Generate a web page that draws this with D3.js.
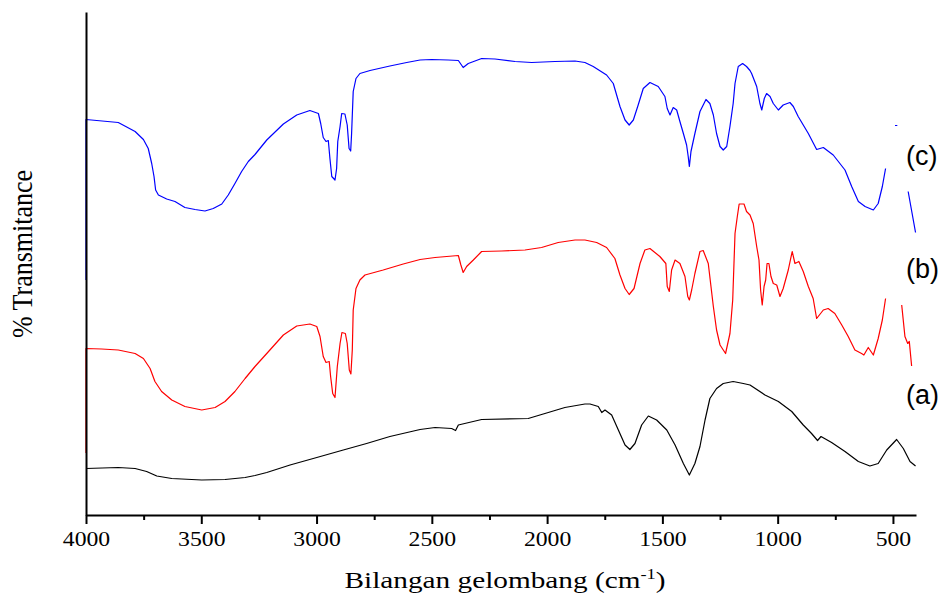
<!DOCTYPE html>
<html>
<head>
<meta charset="utf-8">
<script src="https://cdn.jsdelivr.net/npm/d3@7"></script>
<style>
  body { margin: 0; background: #fff; }
</style>
</head>
<body>
<svg id="chart" width="944" height="595"></svg>
<script>
// wavenumber tick labels
const majorTicks = [4000, 3500, 3000, 2500, 2000, 1500, 1000, 500];
const minorTicks = [3750, 3250, 2750, 2250, 1750, 1250, 750];

// curve labels
const curveLabels = ['(a)', '(b)', '(c)'];
const labelLevels = [22.2, 47.4, 70.0];

// [wavenumber, transmittance (arbitrary, stacked)] ; null = gap in the trace
const spectrumA = [
  [4000, 9.3], [3860, 9.5], [3787, 9.3], [3737, 8.7], [3693, 7.8], [3628, 7.3],
  [3498, 7.0], [3397, 7.1], [3310, 7.5], [3267, 7.9], [3216, 8.5], [3115, 10.0],
  [2999, 11.5], [2884, 13.0], [2783, 14.3], [2682, 15.7], [2551, 17.1], [2486, 17.5],
  [2414, 17.3], [2397, 16.9], [2385, 18.0], [2284, 19.1], [2082, 19.3], [1995, 20.5],
  [1923, 21.5], [1836, 22.2], [1814, 22.2], [1778, 21.7], [1763, 20.5], [1749, 21.0],
  [1720, 20.0], [1691, 17.0], [1662, 14.0], [1641, 13.1], [1619, 14.3], [1590, 18.0],
  [1561, 19.8], [1525, 19.0], [1481, 17.0], [1445, 14.0], [1409, 10.3], [1383, 8.0],
  [1359, 10.3], [1337, 13.7], [1315, 19.0], [1294, 23.3], [1265, 25.3], [1236, 26.3],
  [1193, 26.7], [1149, 26.3], [1120, 26.0], [1055, 24.0], [997, 22.7], [939, 20.7],
  [889, 18.0], [853, 16.3], [827, 14.9], [812, 15.7], [766, 14.5], [708, 12.7],
  [650, 10.7], [600, 9.8], [564, 10.3], [527, 13.0], [484, 15.1], [455, 13.3],
  [426, 10.7], [402, 9.8]
];

const spectrumB = [
  [4000, 12.4], [4000, 33.3], [3932, 33.2], [3860, 33.0], [3787, 32.3], [3751, 31.3],
  [3722, 29.3], [3701, 26.7], [3672, 24.7], [3628, 23.0], [3571, 21.7], [3498, 21.0],
  [3440, 21.5], [3397, 22.7], [3354, 24.7], [3310, 27.3], [3267, 29.7], [3216, 32.3],
  [3144, 36.0], [3086, 37.8], [3029, 38.2], [2999, 37.7], [2985, 35.7], [2971, 31.7],
  [2959, 30.5], [2945, 30.7], [2939, 27.7], [2930, 24.3], [2920, 23.5], [2910, 29.7],
  [2898, 34.3], [2890, 36.5], [2875, 36.3], [2867, 34.3], [2858, 29.0], [2851, 28.2],
  [2845, 33.0], [2841, 41.0], [2829, 45.3], [2812, 47.0], [2790, 48.0], [2711, 49.0],
  [2624, 50.2], [2551, 51.1], [2486, 51.5], [2385, 51.9], [2374, 50.0], [2364, 48.5],
  [2349, 49.7], [2320, 51.0], [2284, 52.7], [2197, 52.8], [2096, 53.0], [2024, 53.5],
  [1952, 54.5], [1879, 55.0], [1836, 55.0], [1785, 54.5], [1742, 53.5], [1706, 51.3],
  [1684, 48.0], [1662, 45.3], [1644, 44.1], [1623, 45.3], [1597, 50.3], [1576, 53.0],
  [1554, 53.3], [1511, 51.7], [1485, 50.3], [1479, 45.7], [1470, 44.7], [1460, 49.0],
  [1445, 51.0], [1424, 50.3], [1402, 47.7], [1390, 43.7], [1383, 43.0], [1373, 45.0],
  [1359, 48.3], [1337, 52.7], [1323, 52.9], [1301, 50.3], [1279, 41.7], [1265, 37.0],
  [1250, 34.0], [1226, 32.3], [1207, 36.3], [1195, 43.0], [1185, 56.3], [1175, 59.7],
  [1167, 62.2], [1146, 62.2], [1135, 60.7], [1120, 60.0], [1106, 58.3], [1091, 53.7],
  [1081, 51.0], [1074, 45.0], [1067, 42.0], [1059, 45.7], [1052, 47.0], [1046, 50.3],
  [1038, 50.3], [1029, 47.7], [1019, 46.3], [1004, 46.0], [990, 43.7], [976, 45.3],
  [954, 49.0], [937, 52.7], [925, 50.3], [908, 50.7], [889, 48.7], [867, 45.7],
  [846, 43.3], [831, 39.3], [802, 41.0], [781, 41.3], [752, 40.3], [722, 38.0],
  [694, 35.7], [665, 33.0], [636, 32.3], [626, 32.0], [607, 33.5], [585, 32.0],
  [564, 35.3], [546, 39.0], [532, 43.3], null,
  [462, 42.0], [448, 35.7], [436, 34.3], [429, 34.7], [419, 29.8]
];

const spectrumC = [
  [4000, 47.0], [4000, 79.1], [3860, 78.5], [3787, 76.7], [3751, 75.1], [3730, 73.3],
  [3715, 70.3], [3705, 67.7], [3698, 65.0], [3686, 64.0], [3650, 63.2], [3614, 62.7],
  [3571, 61.5], [3527, 61.1], [3484, 60.8], [3448, 61.3], [3411, 62.2], [3383, 64.0],
  [3354, 66.3], [3325, 68.7], [3296, 70.7], [3267, 72.1], [3216, 75.0], [3144, 78.2],
  [3086, 80.0], [3029, 80.9], [2992, 80.3], [2982, 78.3], [2971, 75.5], [2959, 74.7],
  [2949, 74.9], [2942, 71.3], [2934, 67.7], [2920, 67.0], [2913, 69.3], [2908, 74.7],
  [2898, 77.7], [2891, 80.3], [2877, 80.2], [2867, 78.0], [2859, 73.3], [2852, 72.8],
  [2848, 76.3], [2841, 84.7], [2829, 87.3], [2812, 88.3], [2768, 88.9], [2682, 89.8],
  [2609, 90.5], [2551, 91.0], [2501, 91.1], [2429, 91.0], [2385, 90.9], [2364, 89.5],
  [2342, 90.3], [2284, 91.3], [2226, 91.2], [2139, 90.7], [2067, 90.5], [1966, 90.7],
  [1879, 90.8], [1836, 90.5], [1800, 89.7], [1742, 88.0], [1713, 86.3], [1684, 81.7],
  [1662, 79.0], [1644, 78.0], [1626, 79.0], [1605, 82.0], [1583, 85.3], [1554, 86.5],
  [1518, 85.7], [1489, 83.7], [1479, 81.3], [1467, 80.0], [1453, 81.5], [1438, 81.0],
  [1424, 78.7], [1409, 76.3], [1395, 74.0], [1388, 71.7], [1383, 69.7], [1376, 72.7],
  [1359, 76.3], [1337, 80.7], [1311, 83.1], [1294, 82.3], [1279, 80.0], [1265, 76.3],
  [1250, 73.7], [1236, 73.0], [1221, 73.7], [1207, 77.7], [1193, 82.3], [1185, 86.3],
  [1171, 89.7], [1152, 90.3], [1135, 89.7], [1120, 88.9], [1113, 88.3], [1091, 85.7],
  [1077, 82.3], [1069, 81.0], [1058, 83.3], [1048, 84.3], [1033, 83.7], [1019, 82.3],
  [997, 81.0], [976, 82.0], [947, 82.5], [932, 81.7], [911, 79.7], [867, 76.3],
  [831, 73.1], [802, 73.5], [759, 72.0], [708, 69.0], [679, 65.7], [650, 62.7],
  [621, 61.7], [585, 61.0], [564, 62.3], [546, 65.7], [532, 69.3], null,
  [491, 77.9], [481, 77.9], null,
  [434, 64.7], [402, 56.5]
];

const series = [
  { name: 'a', color: '#000000', values: spectrumA },
  { name: 'b', color: '#ff0000', values: spectrumB },
  { name: 'c', color: '#0000ff', values: spectrumC }
];

const serif = '"Liberation Serif", "Times New Roman", serif';
const sans = '"Liberation Sans", Arial, sans-serif';

const svg = d3.select('#chart');
const margin = { left: 86, right: 28, top: 12, bottom: 80 };
const width = 944, height = 595;

const x = d3.scaleLinear().domain([4000, 400]).range([margin.left, width - margin.right]);
const y = d3.scaleLinear().domain([0, 100.6]).range([height - margin.bottom, margin.top]);

const line = d3.line()
  .defined(d => d !== null)
  .x(d => x(d[0]))
  .y(d => y(d[1]));

// spectra
svg.append('g')
  .selectAll('path')
  .data(series)
  .join('path')
  .attr('fill', 'none')
  .attr('stroke', d => d.color)
  .attr('stroke-width', 1.2)
  .attr('stroke-linejoin', 'round')
  .attr('d', d => line(d.values));

// x axis
const xAxis = svg.append('g')
  .attr('transform', `translate(0,${y(0)})`)
  .call(d3.axisBottom(x).tickValues(majorTicks).tickSize(9).tickSizeOuter(0).tickPadding(7).tickFormat(d3.format('d')));
xAxis.select('.domain').attr('stroke-width', 2);
xAxis.selectAll('.tick line').attr('stroke-width', 2);
xAxis.selectAll('.tick text')
  .style('font-family', serif)
  .style('font-size', '21px')
  .attr('fill', '#000')
  .attr('transform', 'scale(1.13,1)');

const xMinor = svg.append('g')
  .attr('transform', `translate(0,${y(0)})`)
  .call(d3.axisBottom(x).tickValues(minorTicks).tickSize(5).tickFormat(''));
xMinor.select('.domain').remove();
xMinor.selectAll('.tick line').attr('stroke-width', 2);

// y axis (no ticks)
const yAxis = svg.append('g')
  .attr('transform', `translate(${x(4000)},0)`)
  .call(d3.axisLeft(y).tickValues([]).tickSizeOuter(0));
yAxis.select('.domain').attr('stroke-width', 2);

// axis titles
const xTitle = svg.append('text')
  .attr('transform', 'translate(505,588) scale(1.22,1)')
  .attr('text-anchor', 'middle')
  .style('font-family', serif)
  .style('font-size', '24px')
  .attr('fill', '#000');
xTitle.append('tspan').text('Bilangan gelombang (cm');
xTitle.append('tspan').attr('dy', -9).style('font-size', '15px').text('-1');
xTitle.append('tspan').attr('dy', 9).text(')');

svg.append('text')
  .attr('transform', 'translate(32,254) scale(1.1,1) rotate(-90)')
  .attr('text-anchor', 'middle')
  .style('font-family', serif)
  .style('font-size', '26px')
  .attr('fill', '#000')
  .text('% Transmitance');

// curve labels
svg.append('g')
  .selectAll('text')
  .data(curveLabels)
  .join('text')
  .attr('x', 906)
  .attr('y', (d, i) => y(labelLevels[i]))
  .style('font-family', sans)
  .style('font-size', '27px')
  .attr('fill', '#000')
  .text(d => d);
</script>
</body>
</html>
